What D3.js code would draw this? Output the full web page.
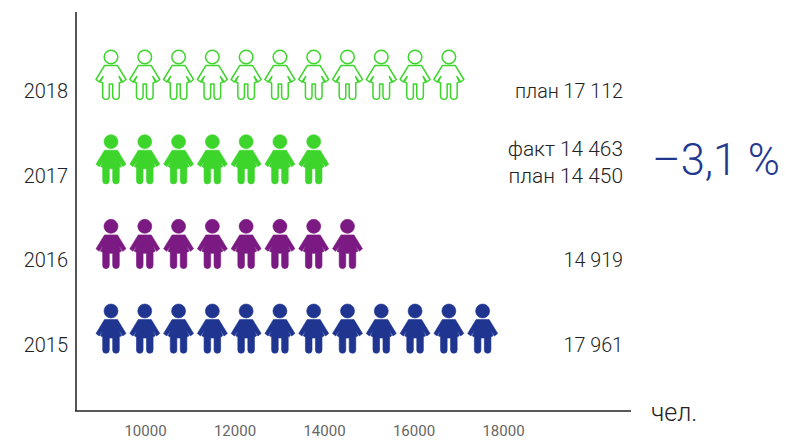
<!DOCTYPE html>
<html>
<head>
<meta charset="utf-8">
<script src="https://cdn.jsdelivr.net/npm/d3@7"></script>
<style>
  html, body { margin: 0; padding: 0; background: #fff; }
  svg { display: block; }
  text { font-family: Roboto, sans-serif; }
</style>
</head>
<body>
<div id="graph"></div>
<script>
const years = ["2018", "2017", "2016", "2015"];
const iconCounts = [11, 7, 8, 12];
const iconColors = ["#3dd52c", "#3dd52c", "#7b1a82", "#1f3590"];
const iconFilled = [false, true, true, true];
const valueLabels = [["план 17 112"], ["факт 14 463", "план 14 450"], ["14 919"], ["17 961"]];
const labelSizes = [19.7, 20.9, 19.7, 19.7];
const xTicks = [10000, 12000, 14000, 16000, 18000];
const firstIcon = 9240;   // chart value under the first figure
const iconStep = 755;     // chart value per figure

const width = 785, height = 442;
const margin = {top: 12, right: 154, bottom: 31, left: 76};
const baseY = height - margin.bottom;

const x = d3.scaleLinear().domain([10000, 18000]).range([145, 503]);
const y = d3.scalePoint().domain(years).range([91, 345]);

const svg = d3.select("#graph").append("svg")
  .attr("width", width).attr("height", height)
  .attr("viewBox", [0, 0, width, height]);

// figure drawn around the centre of the head
const body = "M-6.5,8.6H6.5L15,22.5L11.8,25L8,19.5L10.5,24.8L8.3,26V39A3.3,3.3 0 0 1 1.7,39V27H-1.7V39A3.3,3.3 0 0 1 -8.3,39V26L-10.5,24.8L-8,19.5L-11.8,25L-15,22.5Z";

const rows = svg.append("g").selectAll("g")
  .data(years)
  .join("g")
    .attr("transform", d => `translate(0,${y(d) - 34})`);

rows.each(function (year, r) {
  const color = iconColors[r], filled = iconFilled[r];
  const people = d3.select(this).selectAll("g")
    .data(d3.range(iconCounts[r]))
    .join("g")
      .attr("transform", i => `translate(${x(firstIcon + i * iconStep)},0)`)
      .attr("fill", filled ? color : "#fff")
      .attr("stroke", color)
      .attr("stroke-width", filled ? 0.6 : 1.5)
      .attr("stroke-linejoin", "round");
  people.append("circle").attr("r", filled ? 7 : 6.8);
  people.append("path").attr("d", body);
});

// axes
svg.append("g")
  .attr("transform", `translate(0,${baseY + 20})`)
  .call(d3.axisBottom(x).tickValues(xTicks).tickSize(0).tickFormat(d3.format("d")))
  .call(g => g.select(".domain").remove())
  .call(g => g.selectAll("text")
    .attr("y", 0).attr("dy", "0.35em")
    .attr("fill", "#666").attr("font-size", 15).attr("font-family", "Roboto"));

svg.append("line")
  .attr("x1", margin.left).attr("x2", margin.left)
  .attr("y1", margin.top).attr("y2", baseY)
  .attr("stroke", "#555").attr("stroke-width", 2);
svg.append("line")
  .attr("x1", margin.left - 1).attr("x2", width - margin.right)
  .attr("y1", baseY).attr("y2", baseY)
  .attr("stroke", "#222").attr("stroke-width", 1.5);

svg.append("text")
  .attr("x", 651).attr("y", 421)
  .attr("font-size", 25).attr("font-weight", 300).attr("fill", "#222")
  .text("чел.");

// year labels
svg.append("g").selectAll("text")
  .data(years)
  .join("text")
    .attr("x", 68).attr("y", d => y(d))
    .attr("dy", "0.35em")
    .attr("text-anchor", "end")
    .attr("font-size", 20).attr("font-weight", 300).attr("fill", "#222")
    .text(d => d);

// value labels on the right
svg.append("g").selectAll("g")
  .data(valueLabels)
  .join("g")
  .each(function (lines, r) {
    d3.select(this).selectAll("text")
      .data(lines)
      .join("text")
        .attr("x", 623)
        .attr("y", (d, i) => y(years[r]) - (lines.length - 1 - i) * 27)
        .attr("dy", "0.35em")
        .attr("text-anchor", "end")
        .attr("font-size", labelSizes[r]).attr("font-weight", 300).attr("fill", "#222")
        .text(d => d);
  });

svg.append("text")
  .attr("x", 780).attr("y", 175)
  .attr("text-anchor", "end")
  .attr("font-size", 43.5).attr("font-weight", 300).attr("fill", "#22398f")
  .text("–3,1 %");
</script>
</body>
</html>
